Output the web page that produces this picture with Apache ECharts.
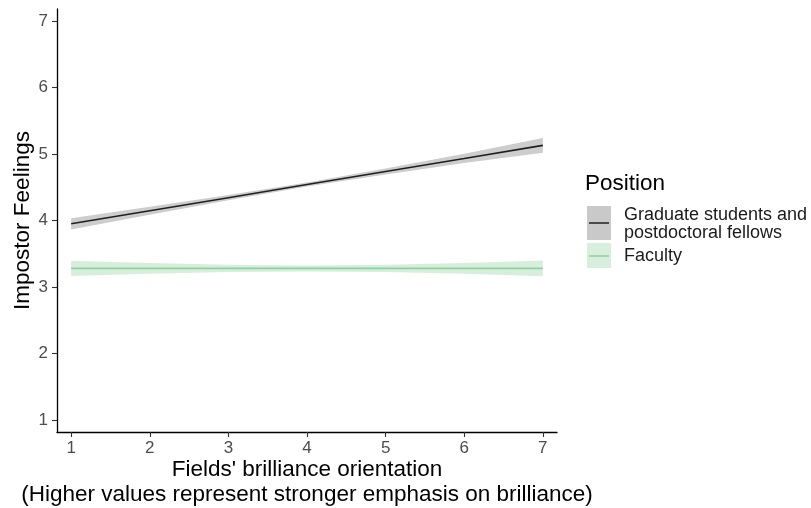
<!DOCTYPE html>
<html>
<head>
<meta charset="utf-8">
<script src="https://cdn.jsdelivr.net/npm/echarts@6/dist/echarts.min.js"></script>
<style>html,body{margin:0;padding:0;background:#fff}#c{width:811px;height:508px}</style>
</head>
<body>
<div id="c"></div>
<script>
var xVals   = [1, 2, 3, 4, 5, 6, 7];
var gradFit = [3.95, 4.147, 4.343, 4.54, 4.737, 4.933, 5.13];
var gradLo  = [3.865, 4.087, 4.303, 4.51, 4.692, 4.863, 5.02];
var gradHi  = [4.035, 4.207, 4.383, 4.57, 4.782, 5.003, 5.24];
var facFit  = [3.28, 3.28, 3.28, 3.28, 3.28, 3.28, 3.28];
var facLo   = [3.165, 3.20, 3.225, 3.235, 3.225, 3.20, 3.16];
var facHi   = [3.395, 3.36, 3.335, 3.325, 3.335, 3.36, 3.40];
var xTicks = [1, 2, 3, 4, 5, 6, 7];
var yTicks = [1, 2, 3, 4, 5, 6, 7];
var seriesNames = ['Graduate students and', 'postdoctoral fellows', 'Faculty'];
var legendTitle = 'Position';

function pairs(xs, ys) { return xs.map(function (x, i) { return [x, ys[i]]; }); }
function rows(xs, lo, hi) { return xs.map(function (x, i) { return [x, lo[i], hi[i]]; }); }

function ribbon(data, color) {
  return {
    type: 'custom', silent: true, z: 1,
    data: data,
    encode: { x: 0, y: [1, 2] },
    renderItem: function (params, api) {
      if (params.dataIndex !== 0) return null;
      var pts = [];
      for (var i = 0; i < data.length; i++) pts.push(api.coord([data[i][0], data[i][2]]));
      for (var j = data.length - 1; j >= 0; j--) pts.push(api.coord([data[j][0], data[j][1]]));
      return { type: 'polygon', shape: { points: pts }, style: { fill: color } };
    }
  };
}

var font = 'Liberation Sans, Arial, sans-serif';
var chart = echarts.init(document.getElementById('c'));
chart.setOption({
  animation: false,
  backgroundColor: '#fff',
  grid: { left: 57, right: 254, top: 9, bottom: 76, containLabel: false, outerBoundsMode: 'none' },
  xAxis: {
    type: 'value', min: 0.82, max: 7.18,
    name: "Fields' brilliance orientation\n(Higher values represent stronger emphasis on brilliance)",
    nameLocation: 'middle', nameGap: 26, nameMoveOverlap: false,
    nameTextStyle: { fontFamily: font, fontSize: 22.5, color: '#000', lineHeight: 24.5, verticalAlign: 'top' },
    splitLine: { show: false },
    axisLine: { show: true, lineStyle: { color: '#000', width: 1.3 } },
    axisTick: { show: true, length: 5, lineStyle: { color: '#333', width: 1.1 }, customValues: xTicks },
    axisLabel: { fontFamily: font, fontSize: 17, color: '#4d4d4d', margin: 8, customValues: xTicks }
  },
  yAxis: {
    type: 'value', min: 0.82, max: 7.18,
    name: 'Impostor Feelings', nameLocation: 'middle', nameGap: 22.5, nameRotate: 90, nameMoveOverlap: false,
    nameTextStyle: { fontFamily: font, fontSize: 22.5, color: '#000' },
    splitLine: { show: false },
    axisLine: { show: true, lineStyle: { color: '#000', width: 1.3 } },
    axisTick: { show: true, length: 5, lineStyle: { color: '#333', width: 1.1 }, customValues: yTicks },
    axisLabel: { fontFamily: font, fontSize: 17, color: '#4d4d4d', margin: 9, customValues: yTicks }
  },
  series: [
    ribbon(rows(xVals, gradLo, gradHi), '#cdcdcd'),
    ribbon(rows(xVals, facLo, facHi), '#d8eedc'),
    { type: 'line', name: seriesNames[0], z: 3, data: pairs(xVals, gradFit), symbol: 'none', lineStyle: { color: '#1f1f1f', width: 1.6 } },
    { type: 'line', name: seriesNames[2], z: 3, data: pairs(xVals, facFit), symbol: 'none', lineStyle: { color: '#8fd19e', width: 1.6 } }
  ],
  graphic: [
    { type: 'text', x: 585, y: 184, style: { text: legendTitle, font: '22.5px ' + font, fill: '#000', verticalAlign: 'middle' } },
    { type: 'rect', shape: { x: 587, y: 206, width: 24, height: 34 }, style: { fill: '#c9c9c9' } },
    { type: 'line', shape: { x1: 589, y1: 223, x2: 609, y2: 223 }, style: { stroke: '#1f1f1f', lineWidth: 1.5 } },
    { type: 'text', x: 624, y: 215.5, style: { text: seriesNames[0], font: '18px ' + font, fill: '#1a1a1a', verticalAlign: 'middle' } },
    { type: 'text', x: 624, y: 233.5, style: { text: seriesNames[1], font: '18px ' + font, fill: '#1a1a1a', verticalAlign: 'middle' } },
    { type: 'rect', shape: { x: 587, y: 243, width: 24, height: 25 }, style: { fill: '#d9efdd' } },
    { type: 'line', shape: { x1: 589, y1: 256, x2: 609, y2: 256 }, style: { stroke: '#8fd19e', lineWidth: 1.5 } },
    { type: 'text', x: 624, y: 256.5, style: { text: seriesNames[2], font: '18px ' + font, fill: '#1a1a1a', verticalAlign: 'middle' } }
  ]
});
</script>
</body>
</html>
